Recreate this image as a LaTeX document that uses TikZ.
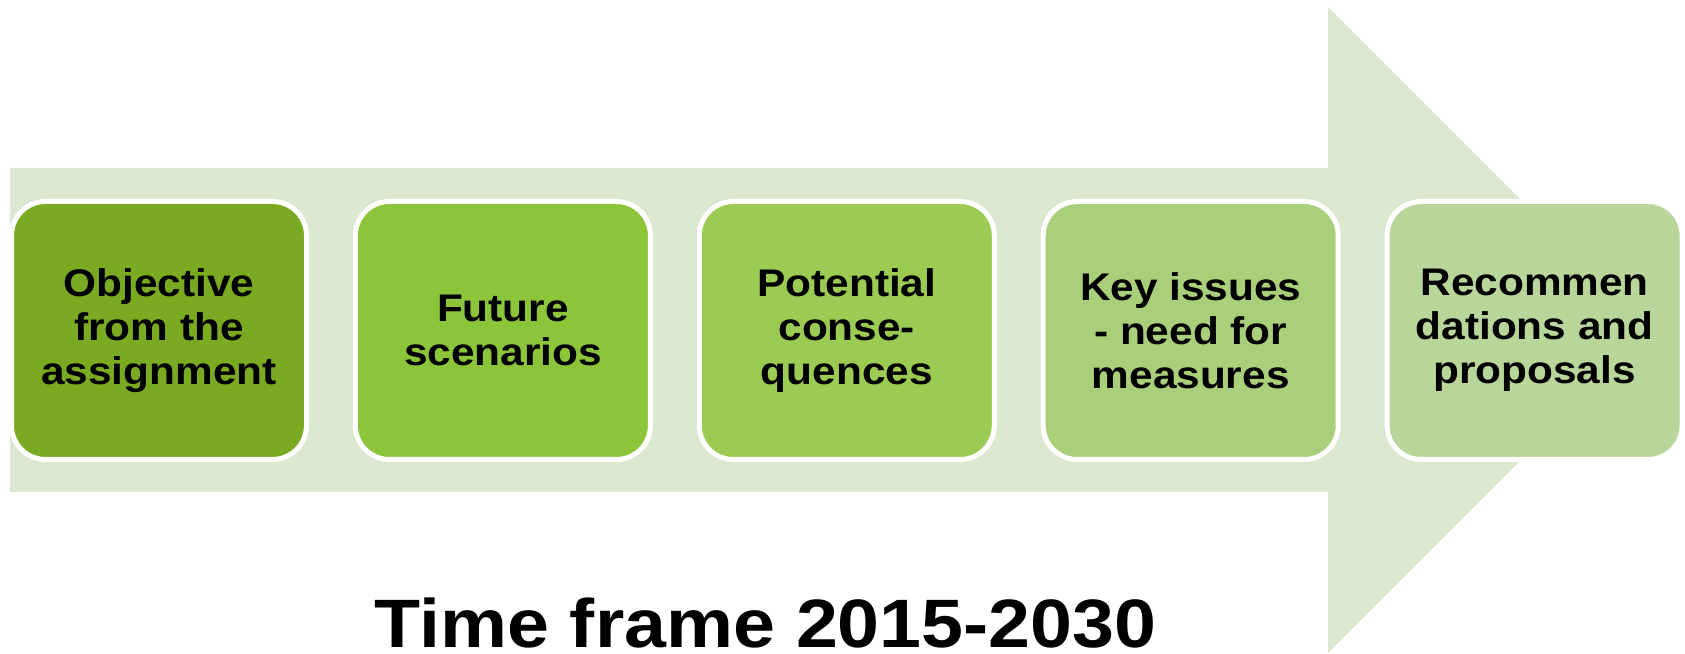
\documentclass[tikz,border=0pt]{standalone}
\usepackage{fontspec}
\setmainfont{Liberation Sans}[FakeStretch=1.1]
\definecolor{arrowbg}{HTML}{DBE7CF}
\definecolor{stepA}{HTML}{7AAA21}
\definecolor{stepB}{HTML}{8CC43A}
\definecolor{stepC}{HTML}{9BCB52}
\definecolor{stepD}{HTML}{AACF7A}
\definecolor{stepE}{HTML}{B8D69A}
\tikzset{
  stagebox/.style={draw=white, line width=5pt, rounded corners=34pt,
    minimum width=295pt, minimum height=258pt, inner sep=0pt,
    align=center, font=\bfseries\fontsize{38.5}{44}\selectfont},
}
\begin{document}
\begin{tikzpicture}[x=1pt,y=1pt]
\useasboundingbox (0,0) rectangle (1685,653);
% broad background arrow
\fill[arrowbg] (10,485) -- (1328,485) -- (1328,646) -- (1651,323)
  -- (1328,0) -- (1328,161) -- (10,161) -- cycle;
% stages
\node[stagebox, fill=stepA] (s1) at (159,322.5) {Objective\\from the\\assignment};
\node[stagebox, fill=stepB] (s2) at (502.9,322.5) {Future\\scenarios};
\node[stagebox, fill=stepC] (s3) at (846.8,322.5) {Potential\\conse-\\quences};
\node[stagebox, fill=stepD] (s4) at (1190.7,322.5) {Key issues\\- need for\\measures};
\node[stagebox, fill=stepE] (s5) at (1534.6,322.5) {Recommen\\dations and\\proposals};
% caption
\node[anchor=base, inner sep=0pt, font=\bfseries\fontsize{68.5}{80}\selectfont] (tf) at (765.5,6) {Time frame 2015-2030};
\end{tikzpicture}
\end{document}
